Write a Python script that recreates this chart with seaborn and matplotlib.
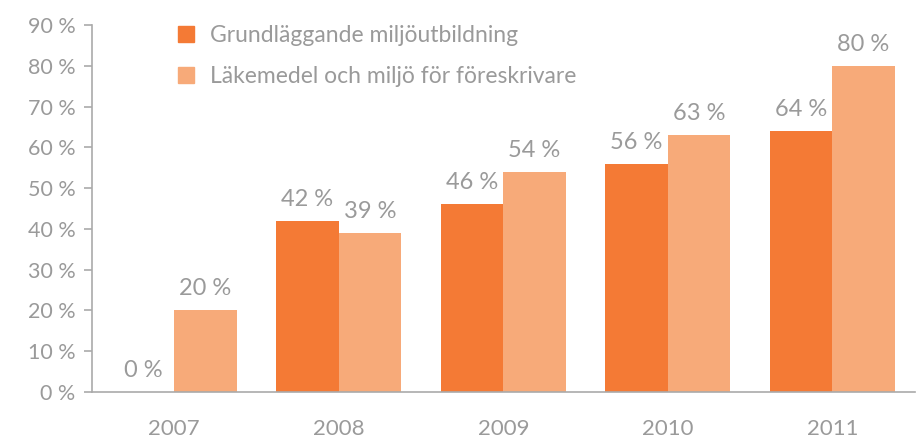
import seaborn as sns
import pandas as pd
import matplotlib.pyplot as plt
from matplotlib.patches import Patch

years = ['2007', '2008', '2009', '2010', '2011']
grund = [0, 42, 46, 56, 64]
lakemedel = [20, 39, 54, 63, 80]
series = ['Grundläggande miljöutbildning', 'Läkemedel och miljö för föreskrivare']
colors = ['#F47A35', '#F7AA79']
grey = '#9A9A9A'

df = pd.DataFrame({
    'year': years * 2,
    'value': grund + lakemedel,
    'serie': [series[0]] * 5 + [series[1]] * 5,
})

sns.set_style('white')
plt.rcParams['font.family'] = ['Lato', 'DejaVu Sans']

fig = plt.figure(figsize=(9.16, 4.38), dpi=100)
ax = fig.add_axes([0.1004, 0.105, 0.898, 0.838])
sns.barplot(data=df, x='year', y='value', hue='serie', palette=colors,
            width=0.76, saturation=1, linewidth=0, ax=ax, legend=False)

for cont in ax.containers:
    ax.bar_label(cont, labels=[f'{v:.0f} %' for v in cont.datavalues],
                 padding=8, fontsize=17, color=grey)

ax.set_ylim(0, 90)
ax.set_xlim(-0.5, 4.5)
ax.set_yticks(range(0, 91, 10))
ax.set_yticklabels([f'{t} %' for t in range(0, 91, 10)])
ax.tick_params(axis='y', left=True, length=6, width=1.2, color='#AAAAAA',
               labelsize=15.5, labelcolor=grey, pad=6)
ax.tick_params(axis='x', bottom=False, labelsize=16, labelcolor=grey, pad=16)
ax.set_xlabel('')
ax.set_ylabel('')
for s in ['top', 'right']:
    ax.spines[s].set_visible(False)
for s in ['left', 'bottom']:
    ax.spines[s].set_color('#AAAAAA')
    ax.spines[s].set_linewidth(1.2)

handles = [Patch(color=c) for c in colors]
ax.legend(handles, series, loc='upper left', bbox_to_anchor=(0.08, 1.055),
          frameon=False, fontsize=16.5, labelcolor=grey, handlelength=0.7,
          handleheight=0.7, handletextpad=0.7, labelspacing=0.85)

fig.savefig('out.png', dpi=100)
